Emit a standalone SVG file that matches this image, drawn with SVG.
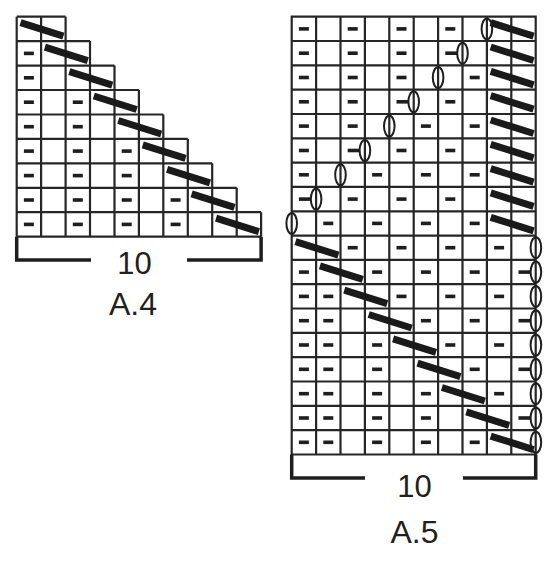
<svg xmlns="http://www.w3.org/2000/svg" xmlns:xlink="http://www.w3.org/1999/xlink" width="550" height="564" viewBox="0 0 550 564">
<style>
.g{fill:none;stroke:#262626;stroke-width:2.2}
.d{fill:#1e1e1e}
.s{fill:none;stroke:#1a1a1a;stroke-width:7}
.o{fill:none;stroke:#1e1e1e;stroke-width:2}
.b{fill:none;stroke:#1e1e1e;stroke-width:3.5}
.t{font-family:"Liberation Sans",Arial,sans-serif;fill:#231f20;text-anchor:middle}
</style>
<defs>
<rect id="dash" class="d" x="-5" y="-1.8" width="10" height="3.6"/>
<path id="sl" class="s" d="M3.8,6 L46.7,19.5"/>
<ellipse id="ov" class="o" rx="5.3" ry="10.5"/>
</defs>
<rect width="550" height="564" fill="#fff"/>

<g id="chart-a4">
<path class="g" d="M16.7,16.7H65.6 M16.7,41.1H90 M16.7,65.6H114.5 M16.7,90H138.9 M16.7,114.5H163.3 M16.7,138.9H187.8 M16.7,163.3H212.2 M16.7,187.8H236.7 M16.7,212.2H261.1 M16.7,236.7H261.1
M16.7,16.7V236.7 M41.1,16.7V236.7 M65.6,16.7V236.7 M90,41.1V236.7 M114.5,65.6V236.7 M138.9,90V236.7 M163.3,114.5V236.7 M187.8,138.9V236.7 M212.2,163.3V236.7 M236.7,187.8V236.7 M261.1,212.2V236.7"/>
<use href="#dash" x="28.9" y="53.4"/>
<use href="#dash" x="28.9" y="77.8"/>
<use href="#dash" x="28.9" y="102.2"/><use href="#dash" x="77.8" y="102.2"/>
<use href="#dash" x="28.9" y="126.7"/><use href="#dash" x="77.8" y="126.7"/>
<use href="#dash" x="28.9" y="151.1"/><use href="#dash" x="77.8" y="151.1"/><use href="#dash" x="126.7" y="151.1"/>
<use href="#dash" x="28.9" y="175.6"/><use href="#dash" x="77.8" y="175.6"/><use href="#dash" x="126.7" y="175.6"/>
<use href="#dash" x="28.9" y="200"/><use href="#dash" x="77.8" y="200"/><use href="#dash" x="126.7" y="200"/><use href="#dash" x="175.6" y="200"/>
<use href="#dash" x="28.9" y="224.4"/><use href="#dash" x="77.8" y="224.4"/><use href="#dash" x="126.7" y="224.4"/><use href="#dash" x="175.6" y="224.4"/>
<use href="#sl" x="16.7" y="16.7"/>
<use href="#sl" x="41.1" y="41.1"/>
<use href="#sl" x="65.6" y="65.6"/>
<use href="#sl" x="90" y="90"/>
<use href="#sl" x="114.5" y="114.5"/>
<use href="#sl" x="138.9" y="138.9"/>
<use href="#sl" x="163.3" y="163.3"/>
<use href="#sl" x="187.8" y="187.8"/>
<use href="#sl" x="212.2" y="212.2"/>
</g>

<g id="chart-a5">
<path class="g" d="M291.7,16.7H535.7V454.5H291.7Z
M316.1,16.7V454.5 M340.5,16.7V454.5 M364.9,16.7V454.5 M389.3,16.7V454.5 M413.7,16.7V454.5 M438.1,16.7V454.5 M462.5,16.7V454.5 M486.9,16.7V454.5 M511.3,16.7V454.5
M291.7,41H535.7 M291.7,65.3H535.7 M291.7,89.7H535.7 M291.7,114H535.7 M291.7,138.3H535.7 M291.7,162.6H535.7 M291.7,186.9H535.7 M291.7,211.3H535.7 M291.7,235.6H535.7 M291.7,259.9H535.7 M291.7,284.2H535.7 M291.7,308.5H535.7 M291.7,332.9H535.7 M291.7,357.2H535.7 M291.7,381.5H535.7 M291.7,405.8H535.7 M291.7,430.1H535.7"/>
<!-- dashes rows 1-9 -->
<use href="#dash" x="303.9" y="28.9"/><use href="#dash" x="352.7" y="28.9"/><use href="#dash" x="401.5" y="28.9"/><use href="#dash" x="450.3" y="28.9"/>
<use href="#dash" x="303.9" y="53.2"/><use href="#dash" x="352.7" y="53.2"/><use href="#dash" x="401.5" y="53.2"/><rect class="d" x="445.3" y="51.4" width="12" height="3.6"/>
<use href="#dash" x="303.9" y="77.5"/><use href="#dash" x="352.7" y="77.5"/><use href="#dash" x="401.5" y="77.5"/><use href="#dash" x="474.7" y="77.5"/>
<use href="#dash" x="303.9" y="101.8"/><use href="#dash" x="352.7" y="101.8"/><rect class="d" x="396.5" y="100" width="12" height="3.6"/><use href="#dash" x="450.3" y="101.8"/>
<use href="#dash" x="303.9" y="126.1"/><use href="#dash" x="352.7" y="126.1"/><use href="#dash" x="425.9" y="126.1"/><use href="#dash" x="474.7" y="126.1"/>
<use href="#dash" x="303.9" y="150.5"/><rect class="d" x="347.7" y="148.7" width="12" height="3.6"/><use href="#dash" x="401.5" y="150.5"/><use href="#dash" x="450.3" y="150.5"/>
<use href="#dash" x="303.9" y="174.8"/><use href="#dash" x="377.1" y="174.8"/><use href="#dash" x="425.9" y="174.8"/><use href="#dash" x="474.7" y="174.8"/>
<rect class="d" x="298.9" y="197.3" width="12" height="3.6"/><use href="#dash" x="352.7" y="199.1"/><use href="#dash" x="401.5" y="199.1"/><use href="#dash" x="450.3" y="199.1"/>
<use href="#dash" x="328.3" y="223.4"/><use href="#dash" x="377.1" y="223.4"/><use href="#dash" x="425.9" y="223.4"/><use href="#dash" x="474.7" y="223.4"/>
<!-- dashes rows 10-18 -->
<use href="#dash" x="352.7" y="247.7"/><use href="#dash" x="401.5" y="247.7"/><use href="#dash" x="450.3" y="247.7"/><use href="#dash" x="499.1" y="247.7"/>
<use href="#dash" x="303.9" y="272.1"/><use href="#dash" x="377.1" y="272.1"/><use href="#dash" x="425.9" y="272.1"/><use href="#dash" x="474.7" y="272.1"/><rect class="d" x="518.5" y="270.3" width="12" height="3.6"/>
<use href="#dash" x="303.9" y="296.4"/><use href="#dash" x="328.3" y="296.4"/><use href="#dash" x="401.5" y="296.4"/><use href="#dash" x="450.3" y="296.4"/><use href="#dash" x="499.1" y="296.4"/>
<use href="#dash" x="303.9" y="320.7"/><use href="#dash" x="328.3" y="320.7"/><use href="#dash" x="425.9" y="320.7"/><use href="#dash" x="474.7" y="320.7"/><rect class="d" x="518.5" y="318.9" width="12" height="3.6"/>
<use href="#dash" x="303.9" y="345"/><use href="#dash" x="328.3" y="345"/><use href="#dash" x="377.1" y="345"/><use href="#dash" x="450.3" y="345"/><use href="#dash" x="499.1" y="345"/>
<use href="#dash" x="303.9" y="369.3"/><use href="#dash" x="328.3" y="369.3"/><use href="#dash" x="377.1" y="369.3"/><use href="#dash" x="474.7" y="369.3"/><rect class="d" x="518.5" y="367.5" width="12" height="3.6"/>
<use href="#dash" x="303.9" y="393.7"/><use href="#dash" x="328.3" y="393.7"/><use href="#dash" x="377.1" y="393.7"/><use href="#dash" x="425.9" y="393.7"/><use href="#dash" x="499.1" y="393.7"/>
<use href="#dash" x="303.9" y="418"/><use href="#dash" x="328.3" y="418"/><use href="#dash" x="377.1" y="418"/><use href="#dash" x="425.9" y="418"/><rect class="d" x="518.5" y="416.2" width="12" height="3.6"/>
<use href="#dash" x="303.9" y="442.3"/><use href="#dash" x="328.3" y="442.3"/><use href="#dash" x="377.1" y="442.3"/><use href="#dash" x="425.9" y="442.3"/><use href="#dash" x="474.7" y="442.3"/>
<!-- slashes -->
<use href="#sl" x="486.9" y="16.7"/>
<use href="#sl" x="486.9" y="41"/>
<use href="#sl" x="486.9" y="65.3"/>
<use href="#sl" x="486.9" y="89.7"/>
<use href="#sl" x="486.9" y="114"/>
<use href="#sl" x="486.9" y="138.3"/>
<use href="#sl" x="486.9" y="162.6"/>
<use href="#sl" x="486.9" y="186.9"/>
<use href="#sl" x="486.9" y="211.3"/>
<use href="#sl" x="291.7" y="235.6"/>
<use href="#sl" x="316.1" y="259.9"/>
<use href="#sl" x="340.5" y="284.2"/>
<use href="#sl" x="364.9" y="308.5"/>
<use href="#sl" x="389.3" y="332.9"/>
<use href="#sl" x="413.7" y="357.2"/>
<use href="#sl" x="438.1" y="381.5"/>
<use href="#sl" x="462.5" y="405.8"/>
<use href="#sl" x="486.9" y="430.1"/>
<!-- ovals -->
<use href="#ov" x="486.9" y="28.9"/>
<use href="#ov" x="462.5" y="53.2"/>
<use href="#ov" x="438.1" y="77.5"/>
<use href="#ov" x="413.7" y="101.8"/>
<use href="#ov" x="389.3" y="126.1"/>
<use href="#ov" x="364.9" y="150.5"/>
<use href="#ov" x="340.5" y="174.8"/>
<use href="#ov" x="316.1" y="199.1"/>
<use href="#ov" x="291.7" y="223.4"/>
<use href="#ov" x="535.9" y="247.7"/>
<use href="#ov" x="535.9" y="272.1"/>
<use href="#ov" x="535.9" y="296.4"/>
<use href="#ov" x="535.9" y="320.7"/>
<use href="#ov" x="535.9" y="345"/>
<use href="#ov" x="535.9" y="369.3"/>
<use href="#ov" x="535.9" y="393.7"/>
<use href="#ov" x="535.9" y="418"/>
<use href="#ov" x="535.9" y="442.3"/>
</g>

<g id="label-a4">
<path class="b" d="M91,260H16.7V236.7 M187,260H261.1V236.7"/>
<text class="t" x="134.5" y="273.5" font-size="31">10</text>
<text class="t" x="133" y="315" font-size="32">A.4</text>
</g>

<g id="label-a5">
<path class="b" d="M365,478H291.7V454.5 M463,478H535.7V454.5"/>
<text class="t" x="414.5" y="497" font-size="31">10</text>
<text class="t" x="414.5" y="543" font-size="32">A.5</text>
</g>
</svg>
